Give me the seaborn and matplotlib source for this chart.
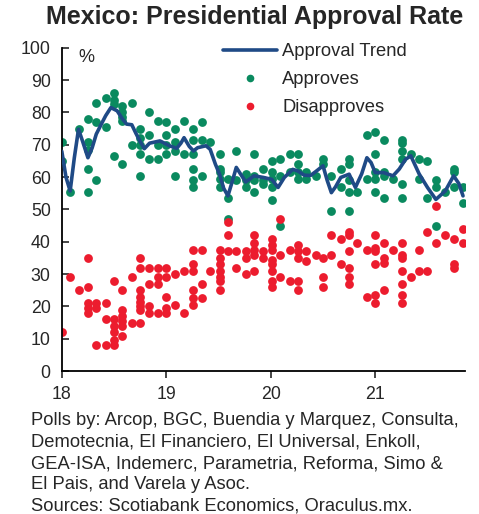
import numpy as np
import pandas as pd
import matplotlib.pyplot as plt
import seaborn as sns
from matplotlib.lines import Line2D

sns.set_style('ticks')
plt.rcParams['font.family'] = ['Liberation Sans', 'DejaVu Sans']

# approves (year, %)
appr_year = [18.0, 18.0, 18.08, 18.16, 18.25, 18.25, 18.25, 18.25, 18.25, 18.33, 18.33, 18.33,
             18.42, 18.42, 18.5, 18.5, 18.5, 18.5, 18.58, 18.58, 18.58, 18.58, 18.58, 18.67, 18.67,
             18.75, 18.75, 18.75, 18.75, 18.75, 18.83, 18.83, 18.83, 18.92, 18.92, 18.92,
             19.0, 19.0, 19.0, 19.0, 19.08, 19.08, 19.08, 19.08, 19.17, 19.17,
             19.26, 19.26, 19.26, 19.26, 19.26, 19.26, 19.34, 19.34, 19.34, 19.42,
             19.51, 19.51, 19.51, 19.51, 19.51, 19.59, 19.59, 19.59, 19.67, 19.67,
             19.76, 19.76, 19.76, 19.84, 19.84, 19.84, 19.84, 19.93, 19.93, 19.93,
             20.01, 20.01, 20.01, 20.01, 20.01, 20.09, 20.09, 20.09, 20.18, 20.18,
             20.26, 20.26, 20.26, 20.26, 20.34, 20.34, 20.43,
             20.5, 20.5, 20.58, 20.58, 20.67, 20.67, 20.75, 20.75, 20.75, 20.75, 20.75, 20.83,
             20.92, 20.92, 21.0, 21.0, 21.0, 21.0, 21.0, 21.08, 21.08, 21.08, 21.08, 21.17,
             21.26, 21.26, 21.26, 21.26, 21.26, 21.26, 21.34, 21.42, 21.42, 21.5, 21.5,
             21.58, 21.58, 21.58, 21.67, 21.75, 21.75, 21.75, 21.84, 21.84]
appr_val = [71, 65, 55.5, 75, 78, 71, 68.5, 62.5, 55.5, 83, 77, 59,
            84.5, 75.5, 86, 84, 82.5, 66.5, 82, 80, 78.5, 77.5, 64, 83, 70,
            75, 72, 70, 67, 60.5, 80, 73, 65.5, 77.5, 70, 65.5,
            77, 73, 70, 67, 75, 71, 68, 60.5, 77.5, 67,
            75, 71.5, 67, 62.5, 59, 57, 77, 71.5, 60.5, 71,
            67, 62.5, 61.5, 59.5, 57, 59.5, 53.5, 47, 68, 59,
            61, 59, 57, 67, 60.5, 59, 55.5, 62.5, 59, 58,
            65, 61.5, 59.5, 57, 53, 65.5, 60.5, 45, 67, 61.5,
            67, 64, 61.5, 59.5, 61.5, 59.5, 60.5,
            65.5, 64, 60.5, 49.5, 62.5, 57, 65.5, 64, 59, 55.5, 49.5, 55.5,
            73, 59.5, 74, 67, 61.5, 59.5, 55.5, 71.5, 61.5, 60.5, 53.5, 59.5,
            71.5, 70.5, 68, 65.5, 58, 53.5, 67, 65.5, 59.5, 65, 53.5,
            59, 57, 45, 55.5, 62.5, 61.5, 57, 57, 52]

# disapproves (year, %)
dis_year = [18.0, 18.08, 18.16, 18.25, 18.25, 18.25, 18.25, 18.25, 18.33, 18.33, 18.33,
            18.42, 18.42, 18.42, 18.5, 18.5, 18.5, 18.5, 18.5, 18.5,
            18.58, 18.58, 18.58, 18.58, 18.58, 18.58, 18.67, 18.67,
            18.75, 18.75, 18.75, 18.75, 18.75, 18.75, 18.75, 18.75,
            18.83, 18.83, 18.83, 18.83, 18.92, 18.92, 18.92, 18.92,
            19.0, 19.0, 19.0, 19.0, 19.0, 19.08, 19.08, 19.17, 19.17,
            19.26, 19.26, 19.26, 19.26, 19.26, 19.26, 19.34, 19.34, 19.34, 19.42,
            19.51, 19.51, 19.51, 19.51, 19.51, 19.51, 19.51, 19.59, 19.59, 19.59,
            19.67, 19.67, 19.76, 19.76, 19.76, 19.84, 19.84, 19.84, 19.84, 19.84,
            19.93, 19.93, 20.01, 20.01, 20.01, 20.01, 20.01, 20.01, 20.01, 20.01,
            20.09, 20.09, 20.09, 20.18, 20.18, 20.26, 20.26, 20.26, 20.26, 20.26,
            20.34, 20.34, 20.43, 20.5, 20.5, 20.5, 20.58, 20.58, 20.67, 20.67,
            20.75, 20.75, 20.75, 20.75, 20.75, 20.75, 20.83, 20.92, 20.92,
            21.0, 21.0, 21.0, 21.0, 21.0, 21.0, 21.08, 21.08, 21.08, 21.08, 21.17,
            21.26, 21.26, 21.26, 21.26, 21.26, 21.26, 21.26, 21.34, 21.42, 21.42,
            21.5, 21.5, 21.58, 21.58, 21.67, 21.75, 21.75, 21.75, 21.84, 21.84]
dis_val = [12, 29, 25, 35, 26, 21, 19.5, 18, 21, 19.5, 8,
           21, 16, 8, 28, 16, 14, 12, 9.5, 8,
           19, 17, 15.5, 14, 11, 25, 29, 15,
           35, 32, 25, 23, 21.5, 20, 19, 15,
           32, 27, 20, 18, 32, 29, 27, 18,
           32, 29, 23, 19.5, 18, 30, 20.5, 31, 18,
           37.5, 33, 31, 25, 22.5, 20.5, 37.5, 27, 22.5, 31,
           37.5, 35, 33, 31, 29, 28, 25, 46, 42, 37,
           37, 32, 37, 35, 30, 42, 39.5, 37.5, 36, 31,
           37, 35, 41, 39, 37.5, 34.5, 33, 31, 28, 26,
           47, 36, 29, 37.5, 28, 39, 37, 35, 28, 25,
           37, 34, 36, 35, 29, 26, 42, 36, 41, 33,
           43, 42, 37, 32, 29, 27, 39.5, 37.5, 23,
           42, 38, 37, 33, 23.5, 21, 39.5, 35, 33.5, 25, 37.5,
           39.5, 36, 35, 31, 27, 23.5, 21, 29, 37.5, 31,
           31, 43, 39.5, 51, 42, 41, 33, 32, 44, 39.5]

# trend line
trend_year = [18.0, 18.04, 18.08, 18.12, 18.16, 18.2, 18.25, 18.29, 18.33, 18.38, 18.42, 18.47,
              18.53, 18.58, 18.62, 18.67, 18.71, 18.75, 18.79, 18.84, 18.94, 19.03, 19.1, 19.14,
              19.17, 19.22, 19.26, 19.3, 19.38, 19.42, 19.47, 19.51, 19.55, 19.59, 19.63,
              19.67, 19.72, 19.76, 19.84, 19.93, 20.01, 20.07, 20.13, 20.21, 20.26, 20.32,
              20.38, 20.43, 20.5, 20.54, 20.58, 20.62, 20.67, 20.75, 20.81, 20.87, 20.92,
              20.96, 21.0, 21.08, 21.17, 21.23, 21.29, 21.34, 21.42, 21.5, 21.58, 21.67,
              21.75, 21.8, 21.84]
trend_val = [68, 60, 55.7, 66, 74.8, 71, 66, 69, 73.3, 76.5, 79, 81.5,
             80.5, 78, 76.4, 76.2, 73.5, 71, 68.8, 70.5, 71.2, 69.7, 68.9, 70.5,
             72.2, 69.5, 68.1, 69.1, 69.7, 68.6, 64, 60.9, 56.5, 54.2, 58.5,
             63, 60.5, 58.5, 60.4, 59.9, 59.3, 56.8, 59.9, 62.4, 61.9, 60.6,
             60.5, 61.7, 63.5, 59, 55.2, 57, 59.9, 60.9, 56.8, 61, 66,
             64.5, 61.4, 61.4, 60.4, 62.5, 65.5, 66.6, 61, 56.8, 53.1, 55.7,
             60.4, 58, 54.2]

green = '#0a8a5f'
red = '#ec1c2e'
navy = '#1f4a86'

df_a = pd.DataFrame({'year': appr_year, 'val': appr_val})
df_d = pd.DataFrame({'year': dis_year, 'val': dis_val})
df_t = pd.DataFrame({'year': trend_year, 'val': trend_val})

fig = plt.figure(figsize=(4.79, 5.14), dpi=100)
ax = fig.add_axes([0.129, 0.278, 0.842, 0.629])

sns.scatterplot(data=df_a, x='year', y='val', color=green, s=40, linewidth=0, ax=ax, zorder=2)
sns.scatterplot(data=df_d, x='year', y='val', color=red, s=40, linewidth=0, ax=ax, zorder=2)
sns.lineplot(data=df_t, x='year', y='val', color=navy, lw=2.6, ax=ax, zorder=3)

ax.set_xlim(18, 21.86)
ax.set_ylim(0, 100)
ax.set_xticks([18, 19, 20, 21])
ax.set_xticklabels(['18', '19', '20', '21'])
ax.set_yticks(range(0, 101, 10))
ax.tick_params(axis='y', direction='in', length=5, width=1.2, labelsize=12.8, pad=8)
ax.tick_params(axis='x', direction='out', length=5, width=1.2, labelsize=12.8, pad=6)
ax.set_xlabel('')
ax.set_ylabel('')
sns.despine(ax=ax)
for sp in ['left', 'bottom']:
    ax.spines[sp].set_linewidth(1.3)
    ax.spines[sp].set_color('black')

ax.text(0.04, 0.995, '%', transform=ax.transAxes, fontsize=13, va='top', ha='left')

handles = [Line2D([], [], color=navy, lw=2.6),
           Line2D([], [], color=green, marker='o', ls='', ms=5.5, mec='none'),
           Line2D([], [], color=red, marker='o', ls='', ms=5.5, mec='none')]
ax.legend(handles, ['Approval Trend', 'Approves', 'Disapproves'], loc='upper left',
          bbox_to_anchor=(0.36, 1.065), frameon=False, fontsize=13.2, handlelength=2.9,
          handletextpad=0.3, labelspacing=0.6)

fig.text(0.532, 0.966, 'Mexico: Presidential Approval Rate', ha='center', va='center',
         fontsize=18, fontweight='bold')

foot = ('Polls by: Arcop, BGC, Buendia y Marquez, Consulta,\n'
        'Demotecnia, El Financiero, El Universal, Enkoll,\n'
        'GEA-ISA, Indemerc, Parametria, Reforma, Simo &\n'
        'El Pais, and Varela y Asoc.\n'
        'Sources: Scotiabank Economics, Oraculus.mx.')
fig.text(0.064, 0.198, foot, ha='left', va='top', fontsize=13.25, linespacing=1.34)

fig.savefig('out.png', dpi=100)
